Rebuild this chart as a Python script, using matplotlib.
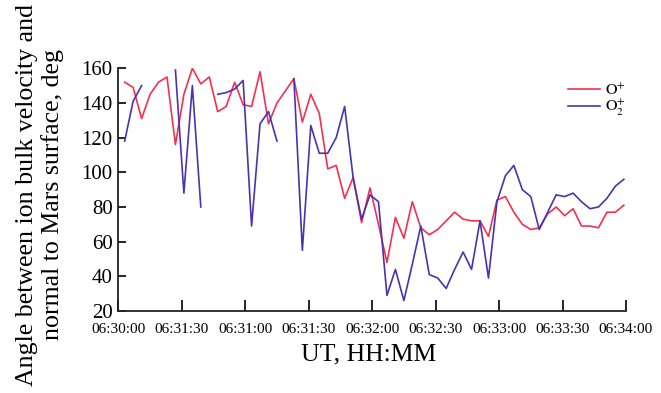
import matplotlib
matplotlib.use("Agg")
import matplotlib.pyplot as plt
import numpy as np

# sample times, seconds after 06:30:00
TIME_S = [3, 7, 11, 15, 19, 23, 27, 31, 35, 39,
          43, 47, 51, 55, 59, 63, 67, 71, 75, 79,
          83, 87, 91, 95, 99, 103, 107, 111, 115, 119,
          123, 127, 131, 135, 139, 143, 147, 151, 155, 159,
          163, 167, 171, 175, 179, 183, 187, 191, 195, 199,
          203, 207, 211, 215, 219, 223, 227, 231, 235, 239]

# angle, deg
O_PLUS = [152, 149, 131, 145, 152, 155, 116, 145, 160, 151,
          155, 135, 138, 152, 139, 138, 158, 128, 140, 147,
          154, 129, 145, 134, 102, 104, 85, 97, 71, 91,
          70, 48, 74, 62, 83, 68, 64, 67, 72, 77,
          73, 72, 72, 63, 84, 86, 77, 70, 67, 68,
          76, 80, 75, 79, 69, 69, 68, 77, 77, 81]

nan = np.nan
O2_PLUS = [118, 141, 150, nan, nan, nan, 159, 88, 150, 80,
           nan, 145, 146, 148, 153, 69, 128, 135, 118, nan,
           154, 55, 127, 111, 111, 120, 138, 97, 73, 87,
           83, 29, 44, 26, 47, 69, 41, 39, 33, 44,
           54, 44, 72, 39, 83, 98, 104, 90, 86, 67,
           77, 87, 86, 88, 83, 79, 80, 85, 92, 96]

TICK_S = [0, 30, 60, 90, 120, 150, 180, 210, 240]
TICK_LABELS = ["06:30:00", "06:31:30", "06:31:00", "06:31:30", "06:32:00",
               "06:32:30", "06:33:00", "06:33:30", "06:34:00"]
Y_TICKS = [20, 40, 60, 80, 100, 120, 140, 160]

plt.rcParams['font.family'] = ['Liberation Serif', 'DejaVu Serif']
plt.rcParams['mathtext.fontset'] = 'stix'

fig = plt.figure(figsize=(6.61, 3.93), dpi=100)
ax = fig.add_axes([0.179, 0.2087, 0.768, 0.6175])

ax.plot(TIME_S, O_PLUS, color='#f5304f', lw=1.2, label=r'$\mathrm{O}^{+}$')
ax.plot(TIME_S, O2_PLUS, color='#4a32b0', lw=1.2, label=r'$\mathrm{O}_2^{+}$')

ax.set_xlim(0, 240)
ax.set_ylim(20, 160)
ax.set_xticks(TICK_S)
ax.set_xticklabels(TICK_LABELS, fontsize=11)
ax.set_yticks(Y_TICKS)
ax.tick_params(axis='y', labelsize=15, direction='in', length=6, width=1.2, pad=4)
ax.tick_params(axis='x', direction='in', length=8, width=1.2, pad=8.5)

for side in ['top', 'right']:
    ax.spines[side].set_visible(False)
for side in ['left', 'bottom']:
    ax.spines[side].set_linewidth(1.3)
    ax.spines[side].set_color('#222222')

fig.text(40 / 661, 1 - 195 / 393,
         "Angle between ion bulk velocity and\nnormal to Mars surface, deg",
         rotation=90, ha='center', va='center', multialignment='center',
         fontsize=18.6, linespacing=1.15)
fig.text(369 / 661, 1 - 354 / 393, "UT, HH:MM", ha='center', va='center', fontsize=18.5)

ax.legend(loc='upper left', bbox_to_anchor=(560 / 661, 1 - 75 / 393),
          bbox_transform=fig.transFigure, frameon=False, fontsize=11.5,
          handlelength=2.0, handletextpad=0.3, labelspacing=-0.05,
          borderpad=0.0)

fig.savefig('out.png', dpi=100)
